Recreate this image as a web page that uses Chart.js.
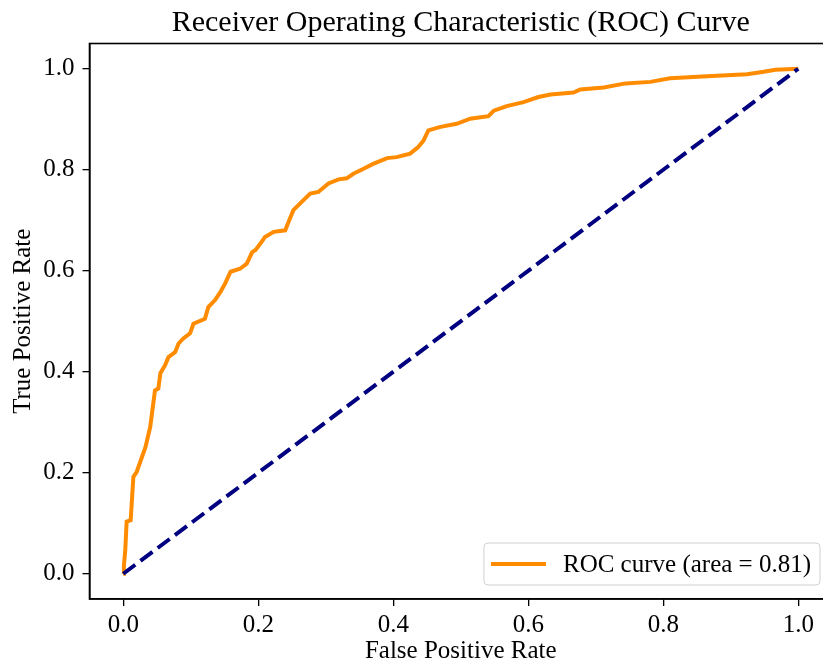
<!DOCTYPE html>
<html>
<head>
<meta charset="utf-8">
<script src="https://cdn.jsdelivr.net/npm/chart.js@4.4.1/dist/chart.umd.min.js"></script>
<style>
  html, body { margin: 0; padding: 0; background: #fff; overflow: hidden; }
  #wrap { width: 850px; height: 666px; }
</style>
</head>
<body>
<div id="wrap"><canvas id="roc" width="850" height="666"></canvas></div>
<script>
// ROC curve points
const fpr = [0, 0.001, 0.003, 0.005, 0.011, 0.015, 0.020, 0.033, 0.040, 0.047,
  0.052, 0.055, 0.062, 0.067, 0.077, 0.082, 0.089, 0.099, 0.104, 0.121,
  0.126, 0.136, 0.144, 0.151, 0.159, 0.173, 0.183, 0.191, 0.196, 0.205,
  0.210, 0.223, 0.240, 0.245, 0.252, 0.267, 0.277, 0.289, 0.304, 0.319,
  0.331, 0.341, 0.356, 0.371, 0.391, 0.405, 0.425, 0.437, 0.445, 0.452,
  0.470, 0.494, 0.514, 0.541, 0.549, 0.568, 0.593, 0.615, 0.633, 0.667,
  0.677, 0.712, 0.744, 0.781, 0.810, 0.865, 0.924, 0.949, 0.966, 1.0];
const tpr = [0, 0.017, 0.047, 0.103, 0.106, 0.192, 0.202, 0.251, 0.291, 0.363,
  0.367, 0.397, 0.413, 0.429, 0.439, 0.456, 0.466, 0.476, 0.495, 0.505,
  0.528, 0.542, 0.558, 0.575, 0.598, 0.604, 0.614, 0.637, 0.641, 0.657,
  0.667, 0.677, 0.680, 0.697, 0.720, 0.740, 0.753, 0.756, 0.773, 0.781,
  0.783, 0.792, 0.802, 0.812, 0.823, 0.825, 0.832, 0.845, 0.858, 0.878,
  0.885, 0.891, 0.901, 0.906, 0.917, 0.926, 0.934, 0.944, 0.949, 0.953,
  0.959, 0.963, 0.971, 0.974, 0.981, 0.985, 0.989, 0.994, 0.998, 1.0];
const chanceX = [0, 1];
const chanceY = [0, 1];
const tickValues = [0, 0.2, 0.4, 0.6, 0.8, 1.0];
const rocLabel = "ROC curve (area = 0.81)";
const titleText = "Receiver Operating Characteristic (ROC) Curve";

const serif = "'Liberation Serif', 'Times New Roman', serif";
const W = 850, H = 666;
// where the axes box sits in the picture
const box = { left: 89.5, right: 832, top: 43.5, bottom: 599 };
const padLeft = 8;

// frame, title and legend drawn by hand (matplotlib look)
const mplExtras = {
  id: "mplExtras",
  afterDatasetsDraw(chart) {
    const { ctx, chartArea: a } = chart;
    ctx.save();
    // legend, lower right
    ctx.font = "25px " + serif;
    const tw = ctx.measureText(rocLabel).width;
    const bw = 7 + 55 + 17 + tw + 9, bh = 42;
    const bx = a.right - 12 - bw, by = a.bottom - 14 - bh;
    ctx.beginPath();
    ctx.roundRect(bx, by, bw, bh, 4);
    ctx.fillStyle = "rgba(255,255,255,0.8)";
    ctx.fill();
    ctx.strokeStyle = "#d0d0d0";
    ctx.lineWidth = 1;
    ctx.stroke();
    ctx.beginPath();
    ctx.moveTo(bx + 7, by + bh / 2);
    ctx.lineTo(bx + 62, by + bh / 2);
    ctx.strokeStyle = "darkorange";
    ctx.lineWidth = 4;
    ctx.stroke();
    ctx.fillStyle = "#000";
    ctx.textBaseline = "middle";
    ctx.textAlign = "left";
    ctx.fillText(rocLabel, bx + 79, by + bh / 2 + 1);
    // spines
    ctx.strokeStyle = "#000";
    ctx.lineWidth = 1.6;
    ctx.strokeRect(a.left, a.top, a.right - a.left, a.bottom - a.top);
    // title
    ctx.font = "30px " + serif;
    ctx.textAlign = "center";
    ctx.fillText(titleText, (a.left + a.right) / 2, 23);
    ctx.restore();
  }
};

new Chart(document.getElementById("roc"), {
  type: "line",
  data: {
    datasets: [
      {
        label: "chance",
        data: chanceX.map((x, i) => ({ x, y: chanceY[i] })),
        borderColor: "navy",
        borderWidth: 4,
        borderDash: [15, 6.5],
        borderCapStyle: "butt",
        pointRadius: 0,
        fill: false
      },
      {
        label: rocLabel,
        data: fpr.map((x, i) => ({ x, y: tpr[i] })),
        borderColor: "darkorange",
        borderWidth: 4,
        pointRadius: 0,
        tension: 0,
        fill: false
      }
    ]
  },
  options: {
    responsive: false,
    animation: false,
    devicePixelRatio: 1,
    layout: { padding: { left: padLeft, right: W - box.right, top: box.top, bottom: 0 } },
    plugins: {
      legend: { display: false },
      title: { display: false },
      tooltip: { enabled: false }
    },
    scales: {
      x: {
        type: "linear",
        min: -0.05,
        max: 1.05,
        afterBuildTicks: s => { s.ticks = tickValues.map(v => ({ value: v })); },
        afterFit: s => { s.height = H - box.bottom; },
        ticks: {
          color: "#000",
          font: { family: serif, size: 25 },
          padding: 4,
          maxRotation: 0,
          callback: v => v.toFixed(1)
        },
        grid: { drawOnChartArea: false, drawTicks: true, tickLength: 7, color: "#000", lineWidth: 1.3 },
        border: { display: true, color: "#000", width: 1.6 },
        title: {
          display: true,
          text: "False Positive Rate",
          color: "#000",
          font: { family: serif, size: 25 },
          padding: { top: 0, bottom: 0 }
        }
      },
      y: {
        type: "linear",
        min: -0.05,
        max: 1.05,
        afterBuildTicks: s => { s.ticks = tickValues.map(v => ({ value: v })); },
        afterFit: s => { s.width = box.left - padLeft; },
        ticks: {
          color: "#000",
          font: { family: serif, size: 25 },
          padding: 8,
          callback: v => v.toFixed(1)
        },
        grid: { drawOnChartArea: false, drawTicks: true, tickLength: 7, color: "#000", lineWidth: 1.3 },
        border: { display: true, color: "#000", width: 1.6 },
        title: {
          display: true,
          text: "True Positive Rate",
          color: "#000",
          font: { family: serif, size: 25 },
          padding: { top: 0, bottom: 0 }
        }
      }
    }
  },
  plugins: [mplExtras]
});
</script>
</body>
</html>
